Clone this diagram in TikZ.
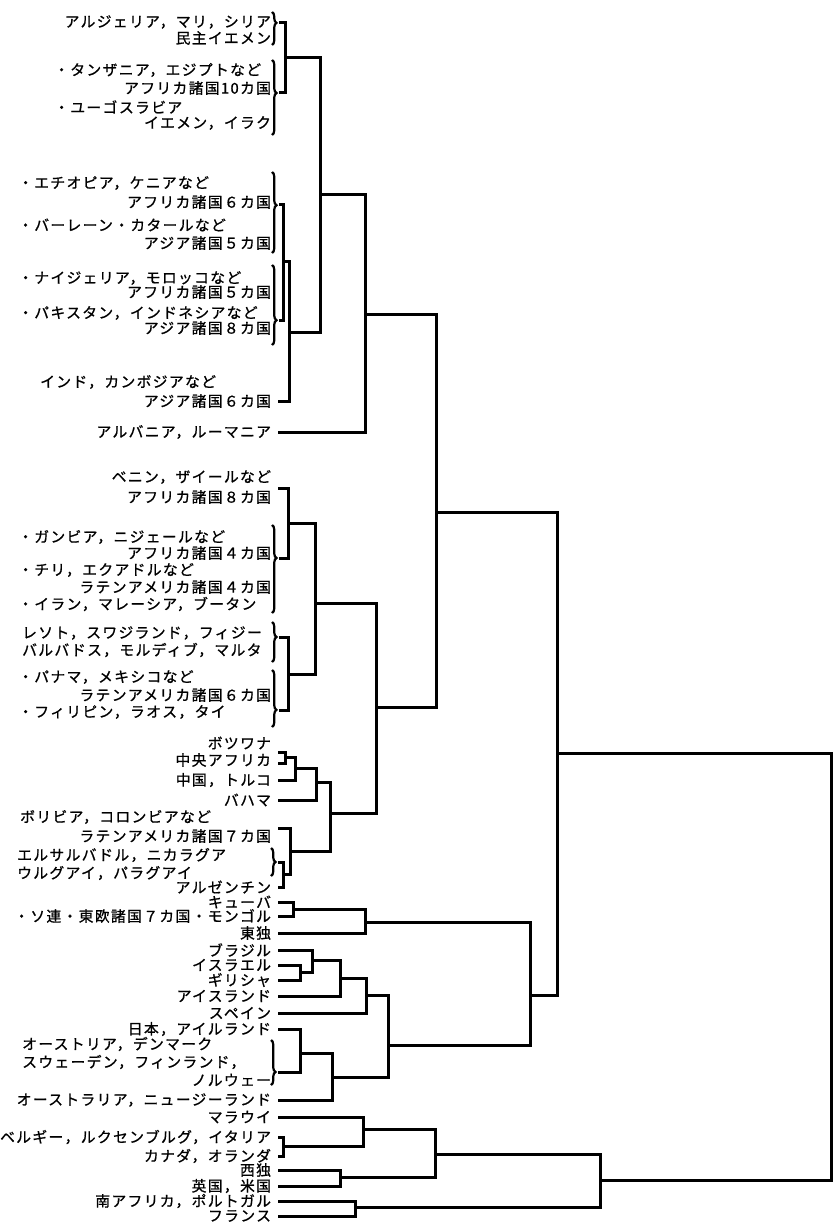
\documentclass[tikz,border=0pt]{standalone}
\usepackage{fontspec}
\usetikzlibrary{decorations.pathreplacing}
\newfontfamily\jp[LetterSpace=9, FakeBold=0.9]{Noto Sans CJK JP}
\newcommand{\lblfont}{\jp\fontsize{14.8pt}{16pt}\selectfont}

\begin{document}
\begin{tikzpicture}[x=1pt, y=-1pt]
  \tikzset{lbl/.style={anchor=east, inner sep=0pt, outer xsep=7pt, font=\lblfont},
    lft/.style={anchor=west, inner sep=0pt, font=\lblfont},
    link/.style={line width=3pt},
    brc/.style={decorate, decoration={brace, amplitude=4.5pt, aspect=#1}, line width=2.2pt}}
  \useasboundingbox (0,0) rectangle (835,1230);

  % top cluster
  \node[lbl] (alg) at (278,22) {アルジェリア，マリ，シリア};
  \node[lbl] (yemd) at (278,38) {民主イエメン};
  \node[lft] (tan) at (54,70) {・タンザニア，エジプトなど};
  \node[lbl] (afr10) at (278,88) {アフリカ諸国10カ国};
  \node[lft] (yug) at (54,107) {・ユーゴスラビア};
  \node[lbl] (yem) at (278,123) {イエメン，イラク};
  \draw[brc=0.33] (272,12) -- (272,45);
  \draw[brc=0.44] (272,60) -- (272,135);
  \coordinate (br1) at (279,23);
  \coordinate (br2) at (279,93);
  \coordinate (j1) at (285,58);
  \draw[link] (br1) -| (j1) |- (br2);

  \node[lft] (eth) at (18,183) {・エチオピア，ケニアなど};
  \node[lbl] (afr6) at (278,202) {アフリカ諸国６カ国};
  \node[lft] (bah) at (18,225) {・バーレーン・カタールなど};
  \node[lbl] (asia5) at (278,243) {アジア諸国５カ国};
  \node[lft] (nig) at (18,278) {・ナイジェリア，モロッコなど};
  \node[lbl] (afr5) at (278,292) {アフリカ諸国５カ国};
  \node[lft] (pak) at (18,313) {・パキスタン，インドネシアなど};
  \node[lbl] (asia8) at (278,328) {アジア諸国８カ国};
  \node[lft] (ind) at (40,382) {インド，カンボジアなど};
  \node[lbl] (asia6) at (278,401) {アジア諸国６カ国};
  \node[lbl] (alb) at (278,432) {アルバニア，ルーマニア};
  \draw[brc=0.41] (272,172) -- (272,253);
  \draw[brc=0.69] (272,265) -- (272,345);
  \coordinate (br3) at (279,205);
  \coordinate (br4) at (279,320);
  \coordinate (j2) at (283,262);
  \coordinate (j3) at (289,332);
  \coordinate (j4) at (320,195);
  \coordinate (j5) at (365,314);
  \draw[link] (br3) -| (j2) |- (br4);
  \draw[link] (j2) -| (j3) |- (asia6.east);
  \draw[link] (j1) -| (j4) |- (j3);
  \draw[link] (j4) -| (j5) |- (alb.east);

  % middle cluster
  \node[lbl] (ben) at (278,477) {ベニン，ザイールなど};
  \node[lbl] (afr8) at (278,497) {アフリカ諸国８カ国};
  \node[lft] (gam) at (18,537) {・ガンビア，ニジェールなど};
  \node[lbl] (afr4) at (278,553) {アフリカ諸国４カ国};
  \node[lft] (chi) at (18,570) {・チリ，エクアドルなど};
  \node[lbl] (lat4) at (278,587) {ラテンアメリカ諸国４カ国};
  \node[lft] (ira) at (18,604) {・イラン，マレーシア，ブータン};
  \node[lft] (les) at (22,633) {レソト，スワジランド，フィジー};
  \node[lft] (bar) at (22,650) {バルバドス，モルディブ，マルタ};
  \node[lft] (pan) at (18,677) {・パナマ，メキシコなど};
  \node[lbl] (lat6) at (278,695) {ラテンアメリカ諸国６カ国};
  \node[lft] (phi) at (18,712) {・フィリピン，ラオス，タイ};
  \draw[brc=0.375] (272,525) -- (272,613);
  \draw[brc=0.375] (272,622) -- (272,662);
  \draw[brc=0.7] (272,670) -- (272,727);
  \coordinate (ben1) at (278,488);
  \coordinate (br5) at (279,558);
  \coordinate (br6) at (279,637);
  \coordinate (br7) at (279,710);
  \coordinate (j6) at (288,523);
  \coordinate (j7) at (288,674);
  \coordinate (j8) at (315,603);
  \draw[link] (ben1) -| (j6) |- (br5);
  \draw[link] (br6) -| (j7) |- (br7);
  \draw[link] (j6) -| (j8) |- (j7);

  \node[lbl] (bot) at (278,743) {ボツワナ};
  \node[lbl] (caf) at (278,760) {中央アフリカ};
  \node[lbl] (chn) at (278,780) {中国，トルコ};
  \node[lbl] (bhm) at (278,800) {バハマ};
  \coordinate (bot1) at (278,752);
  \coordinate (caf1) at (278,763);
  \coordinate (j9) at (285,757);
  \coordinate (j10) at (295,768);
  \coordinate (j11) at (316,782);
  \draw[link] (bot1) -| (j9) |- (caf1);
  \draw[link] (j9) -| (j10) |- (chn.east);
  \draw[link] (j10) -| (j11) |- (bhm.east);

  \node[lft] (bol) at (20,817) {ボリビア，コロンビアなど};
  \node[lbl] (lat7) at (278,836) {ラテンアメリカ諸国７カ国};
  \node[lft] (els) at (17,855) {エルサルバドル，ニカラグア};
  \node[lft] (uru) at (17,873) {ウルグアイ，パラグアイ};
  \node[lbl] (arg) at (278,887) {アルゼンチン};
  \draw[brc=0.5] (271,848) -- (271,876);
  \coordinate (lat7t) at (278,828);
  \coordinate (br8) at (278,862);
  \coordinate (j12) at (283,874);
  \coordinate (j13) at (290,851);
  \coordinate (j14) at (330,813);
  \coordinate (j15) at (376,707);
  \coordinate (j16) at (436,512);
  \draw[link] (br8) -| (j12) |- (arg.east);
  \draw[link] (lat7t) -| (j13) |- (j12);
  \draw[link] (j11) -| (j14) |- (j13);
  \draw[link] (j8) -| (j15) |- (j14);
  \draw[link] (j5) -| (j16) |- (j15);

  % lower cluster
  \node[lbl] (cub) at (278,902) {キューバ};
  \node[lbl] (sov) at (278,916) {・ソ連・東欧諸国７カ国・モンゴル};
  \node[lbl] (gdr) at (278,933) {東独};
  \node[lbl] (bra) at (278,950) {ブラジル};
  \node[lbl] (isr) at (278,965) {イスラエル};
  \node[lbl] (gre) at (278,980) {ギリシャ};
  \node[lbl] (ice) at (278,996) {アイスランド};
  \node[lbl] (spa) at (278,1013) {スペイン};
  \node[lbl] (jpn) at (278,1029) {日本，アイルランド};
  \node[lft] (aut) at (22,1044) {オーストリア，デンマーク};
  \node[lft] (swe) at (22,1062) {スウェーデン，フィンランド，};
  \node[lbl] (nor) at (278,1080) {ノルウェー};
  \node[lbl] (aus) at (278,1100) {オーストラリア，ニュージーランド};
  \draw[brc=0.71] (271,1040) -- (271,1085);
  \coordinate (br9) at (278,1072);
  \coordinate (j17) at (293,909);
  \coordinate (j18) at (365,922);
  \coordinate (j19) at (300,972);
  \coordinate (j20) at (312,960);
  \coordinate (j21) at (340,978);
  \coordinate (j22) at (366,995);
  \coordinate (j23) at (300,1053);
  \coordinate (j24) at (332,1077);
  \coordinate (j25) at (388,1045);
  \coordinate (j26) at (530,995);
  \coordinate (j27) at (557,753);
  \draw[link] (cub.east) -| (j17) |- (sov.east);
  \draw[link] (j17) -| (j18) |- (gdr.east);
  \draw[link] (isr.east) -| (j19) |- (gre.east);
  \draw[link] (bra.east) -| (j20) |- (j19);
  \draw[link] (j20) -| (j21) |- (ice.east);
  \draw[link] (j21) -| (j22) |- (spa.east);
  \draw[link] (jpn.east) -| (j23) |- (br9);
  \draw[link] (j23) -| (j24) |- (aus.east);
  \draw[link] (j22) -| (j25) |- (j24);
  \draw[link] (j18) -| (j26) |- (j25);
  \draw[link] (j16) -| (j27) |- (j26);

  % bottom cluster
  \node[lbl] (mal) at (278,1117) {マラウイ};
  \node[lbl] (bel) at (278,1137) {ベルギー，ルクセンブルグ，イタリア};
  \node[lbl] (can) at (278,1156) {カナダ，オランダ};
  \node[lbl] (frg) at (278,1170) {西独};
  \node[lbl] (uk) at (278,1186) {英国，米国};
  \node[lbl] (saf) at (278,1201) {南アフリカ，ポルトガル};
  \node[lbl] (fra) at (278,1216) {フランス};
  \coordinate (j28) at (283,1146);
  \coordinate (j29) at (363,1129);
  \coordinate (j30) at (340,1177);
  \coordinate (j31) at (435,1154);
  \coordinate (j32) at (355,1207);
  \coordinate (j33) at (600,1180);
  \coordinate (root) at (831,966);
  \draw[link] (bel.east) -| (j28) |- (can.east);
  \draw[link] (mal.east) -| (j29) |- (j28);
  \draw[link] (frg.east) -| (j30) |- (uk.east);
  \draw[link] (j29) -| (j31) |- (j30);
  \draw[link] (saf.east) -| (j32) |- (fra.east);
  \draw[link] (j31) -| (j33) |- (j32);
  \draw[link] (j27) -| (root) |- (j33);
\end{tikzpicture}
\end{document}
